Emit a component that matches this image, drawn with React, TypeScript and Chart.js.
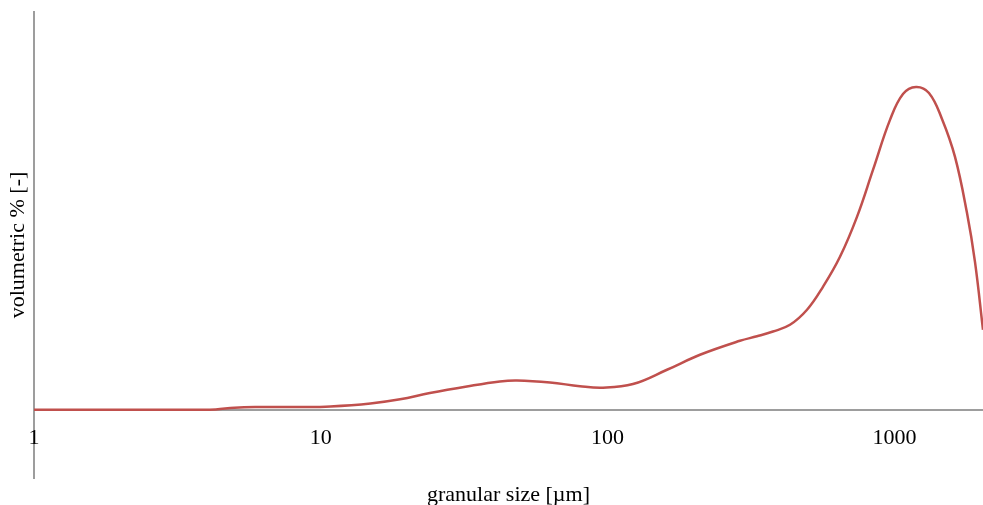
import React, { useEffect, useRef } from "react";
import { Chart, registerables } from "chart.js";

Chart.register(...registerables);

// Particle size distribution (granular size in µm, volumetric %)
const sizes = [
  1, 2, 3.8, 4.3, 5.0, 5.9, 8.5, 10.8, 14.9, 18.9, 24.0, 32.3, 42.1, 48.3, 63.0,
  80.1, 96.4, 122.6, 161.1, 210, 289.5, 331.8, 377.3, 432.5, 495.9, 563.6,
  646.1, 740.6, 842.2, 965.4, 1071.5, 1189.4, 1320, 1465.5, 1627, 1791, 1910,
  2037,
];
const volumes = [
  0, 0, 0, 0.005, 0.03, 0.04, 0.041, 0.05, 0.095, 0.158, 0.252, 0.351, 0.427,
  0.442, 0.412, 0.354, 0.332, 0.387, 0.603, 0.829, 1.04, 1.108, 1.18, 1.281,
  1.508, 1.854, 2.307, 2.91, 3.618, 4.372, 4.764, 4.87, 4.779, 4.387, 3.814,
  2.97, 2.231, 1.206,
];
const xTicks = [1, 10, 100, 1000];

const X_MIN = 1;
const X_MAX = 2037;
const Y_MIN = -1.03;
const Y_MAX = 6;

const FONT = "'Liberation Serif', 'Times New Roman', serif";
const AXIS_COLOR = "#9d9d9d";
const LINE_COLOR = "#c0504d";

export default function App() {
  const canvasRef = useRef<HTMLCanvasElement | null>(null);

  useEffect(() => {
    const canvas = canvasRef.current;
    if (!canvas) return;
    Chart.defaults.font.family = FONT;
    Chart.defaults.color = "#000";

    const chart = new Chart(canvas, {
      type: "line",
      data: {
        datasets: [
          {
            data: sizes.map((x, i) => ({ x, y: volumes[i] })),
            borderColor: LINE_COLOR,
            borderWidth: 2.5,
            pointRadius: 0,
            tension: 0.4,
            fill: false,
          },
        ],
      },
      options: {
        responsive: false,
        animation: false,
        layout: { padding: { top: 12, left: 0, right: 0, bottom: 0 } },
        plugins: {
          legend: { display: false },
          tooltip: { enabled: false },
          title: { display: false },
        },
        scales: {
          x: {
            type: "logarithmic",
            min: X_MIN,
            max: X_MAX,
            position: { y: 0 },
            grid: { display: false, drawTicks: false },
            border: { display: true, color: AXIS_COLOR, width: 2 },
            afterBuildTicks: (scale: any) => {
              scale.ticks = xTicks.map((value) => ({ value }));
            },
            afterFit: (scale: any) => {
              scale.height = 0;
            },
            ticks: {
              z: 1,
              autoSkip: false,
              maxRotation: 0,
              padding: 15,
              font: { size: 22, family: FONT },
              color: "#000",
              callback: (value: any) => String(value),
            },
          },
          xTitle: {
            type: "logarithmic",
            axis: "x",
            min: X_MIN,
            max: X_MAX,
            position: "bottom",
            grid: { display: false, drawTicks: false },
            border: { display: false },
            ticks: { display: false },
            afterFit: (scale: any) => {
              scale.height = 27;
            },
            title: {
              display: true,
              text: "granular size [µm]",
              font: { size: 22, family: FONT },
              color: "#000",
              padding: { top: 0, bottom: -3 },
            },
          },
          y: {
            type: "linear",
            min: Y_MIN,
            max: Y_MAX,
            position: "left",
            grid: { display: false, drawTicks: false },
            border: { display: true, color: AXIS_COLOR, width: 2 },
            ticks: { display: false },
            afterFit: (scale: any) => {
              scale.width = 34;
            },
            title: {
              display: true,
              text: "volumetric % [-]",
              font: { size: 22, family: FONT },
              color: "#000",
              padding: { top: 5, bottom: 0 },
            },
          },
        },
      },
    } as any);

    return () => chart.destroy();
  }, []);

  return (
    <div
      style={{
        position: "fixed",
        left: 0,
        top: 0,
        width: 983,
        height: 505,
        background: "#fff",
      }}
    >
      <canvas ref={canvasRef} width={983} height={505} />
    </div>
  );
}
